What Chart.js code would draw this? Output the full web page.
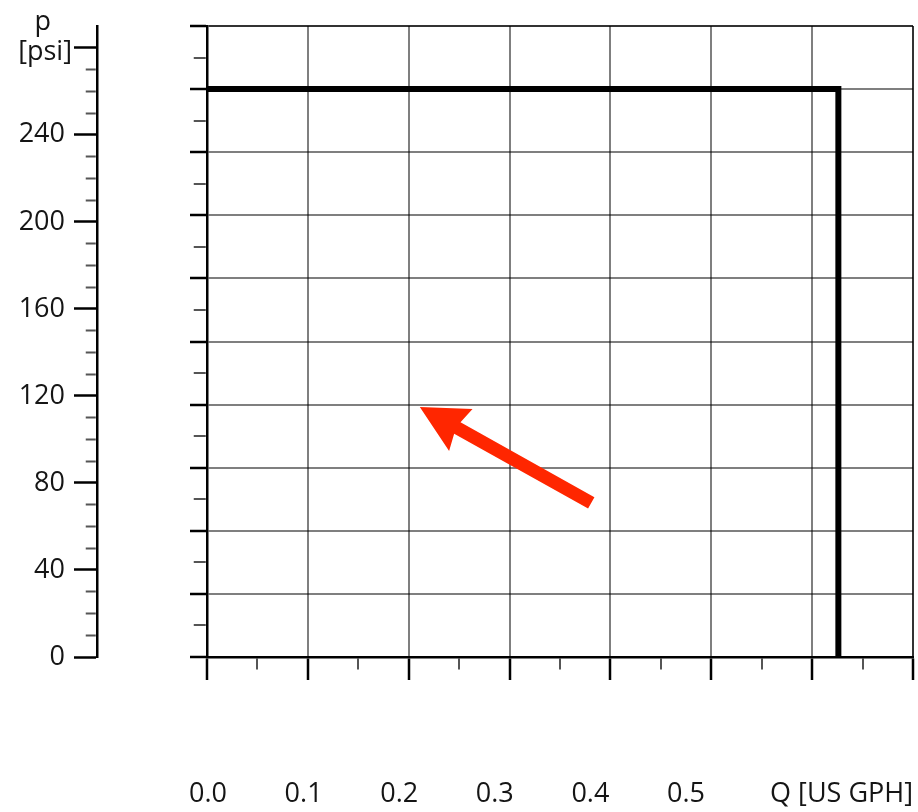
<!DOCTYPE html>
<html>
<head>
<meta charset="utf-8">
<script src="https://cdn.jsdelivr.net/npm/chart.js@4/dist/chart.umd.min.js"></script>
<style>
  html, body { margin: 0; padding: 0; background: #ffffff; }
  #wrap { width: 918px; height: 812px; }
</style>
</head>
<body>
<div id="wrap"><canvas id="c" width="918" height="812"></canvas></div>
<script>
// ---- data ----
const qCurve = [0, 0.626, 0.626];          // Q [US GPH]
const pCurve = [261, 261, 0];              // p [psi]
const xTickValues = [0, 0.1, 0.2, 0.3, 0.4, 0.5];
const xTickLabels = ['0.0', '0.1', '0.2', '0.3', '0.4', '0.5'];
const xAxisName = 'Q [US GPH]';
const pTickValues = [0, 40, 80, 120, 160, 200, 240];
const pUnit = '[psi]';
const pName = 'p';
const arrowQ = [0.381, 0.211];             // tail, tip
const arrowP = [70.8, 114.9];

// ---- style constants ----
const FONT = 'Open Sans';
const GRID = 'rgba(0,0,0,0.5)';
const EDGE = 'rgba(0,0,0,0.8)';
const MINOR = '#555555';
const TEXT = '#151515';

Chart.defaults.font.family = FONT;
Chart.defaults.font.size = 27;
Chart.defaults.color = TEXT;

const arrowPlugin = {
  id: 'arrowPlugin',
  afterDatasetsDraw(chart) {
    const xs = chart.scales.x, ys = chart.scales.y, ctx = chart.ctx;
    const x0 = xs.getPixelForValue(arrowQ[0]), y0 = ys.getPixelForValue(arrowP[0]);
    const x1 = xs.getPixelForValue(arrowQ[1]), y1 = ys.getPixelForValue(arrowP[1]);
    const ang = Math.atan2(y1 - y0, x1 - x0);
    const len = Math.hypot(x1 - x0, y1 - y0);
    const sw = 13, hl = 47, hw = 48;
    ctx.save();
    ctx.translate(x1, y1);
    ctx.rotate(ang);
    ctx.beginPath();
    ctx.moveTo(0, 0);
    ctx.lineTo(-hl, -hw / 2);
    ctx.lineTo(-hl + 4, -sw / 2);
    ctx.lineTo(-len, -sw / 2);
    ctx.lineTo(-len, sw / 2);
    ctx.lineTo(-hl + 4, sw / 2);
    ctx.lineTo(-hl, hw / 2);
    ctx.closePath();
    ctx.fillStyle = '#ff2600';
    ctx.fill();
    ctx.restore();
  }
};

const isMajorQ = v => Math.round(v * 100) % 10 === 0;

new Chart(document.getElementById('c'), {
  type: 'line',
  data: {
    datasets: [{
      data: qCurve.map((q, i) => ({ x: q, y: pCurve[i] })),
      xAxisID: 'x',
      yAxisID: 'y',
      borderColor: '#000000',
      borderWidth: 6,
      borderJoinStyle: 'miter',
      pointRadius: 0,
      tension: 0,
      fill: false
    }]
  },
  options: {
    responsive: false,
    animation: false,
    devicePixelRatio: 1,
    layout: { padding: { top: 26, right: 5, left: 0, bottom: 0 } },
    plugins: { legend: { display: false }, tooltip: { enabled: false } },
    scales: {
      x: {
        type: 'linear', position: 'bottom', weight: 0,
        min: 0, max: 0.7,
        ticks: { display: false, stepSize: 0.05, autoSkip: false },
        grid: {
          drawTicks: true,
          tickLength: 23,
          color: c => {
            const v = c.tick.value;
            if (!isMajorQ(v)) return 'rgba(0,0,0,0)';
            return Math.abs(v - 0.7) < 1e-6 ? EDGE : GRID;
          },
          lineWidth: 2,
          tickColor: c => isMajorQ(c.tick.value) ? '#000000' : MINOR,
          tickWidth: c => isMajorQ(c.tick.value) ? 2.5 : 2,
          tickBorderDash: c => isMajorQ(c.tick.value) ? [] : [11, 100]
        },
        border: { display: true, color: '#000000', width: 2.5 },
        afterFit: s => { s.height = 110; }
      },
      x2: {
        type: 'linear', position: 'bottom', weight: 1,
        min: -0.0209, max: 0.7176,
        grid: {
          display: true, drawOnChartArea: false, drawTicks: true,
          tickLength: 6, tickColor: 'rgba(0,0,0,0)', color: 'rgba(0,0,0,0)'
        },
        border: { display: false },
        ticks: {
          align: 'end', padding: 5, autoSkip: false, maxRotation: 0,
          color: TEXT,
          callback: (v, i) => i < xTickLabels.length ? xTickLabels[i] : xAxisName
        },
        afterBuildTicks: s => {
          s.ticks = xTickValues.map(v => ({ value: v })).concat([{ value: s.max }]);
        },
        afterFit: s => { s.height = 45; }
      },
      y: {
        type: 'linear', position: 'left', weight: 1,
        min: 0, max: 290,
        ticks: {
          stepSize: 10, autoSkip: false, padding: 2, color: TEXT,
          font: c => {
            const v = c.tick ? c.tick.value : null;
            if (v === 290) return { size: 27, lineHeight: 0.3 };
            if (v === 280) return { size: 27, lineHeight: 0.35 };
            return { size: 27 };
          },
          callback: v => {
            if (v === 290) return [pName + '   ', ''];
            if (v === 280) return ['', pUnit];
            if (pTickValues.includes(v)) return v + ' ';
            return '';
          }
        },
        grid: {
          drawOnChartArea: false,
          drawTicks: true,
          tickLength: 23,
          tickColor: c => {
            const v = c.tick.value;
            if (v === 290) return 'rgba(0,0,0,0)';
            return v % 40 === 0 ? '#000000' : MINOR;
          },
          tickWidth: c => c.tick.value % 40 === 0 ? 2.5 : 2,
          tickBorderDash: c => c.tick.value % 40 === 0 ? [] : [0, 11.75, 10, 100]
        },
        border: { display: true, color: '#000000', width: 2.5 },
        afterFit: s => { s.width = 97; }
      },
      yg: {
        type: 'linear', position: 'left', weight: 0,
        min: 0, max: 20,
        ticks: { display: false, stepSize: 1, autoSkip: false },
        grid: {
          drawTicks: true,
          tickLength: 17,
          color: c => {
            const v = c.tick.value;
            if (v % 2 !== 0) return 'rgba(0,0,0,0)';
            return v === 20 ? EDGE : GRID;
          },
          lineWidth: 2,
          tickColor: c => c.tick.value % 2 === 0 ? '#000000' : MINOR,
          tickWidth: c => c.tick.value % 2 === 0 ? 2.5 : 2,
          tickBorderDash: c => c.tick.value % 2 === 0 ? [] : [0, 3.75, 12, 100]
        },
        border: { display: true, color: '#000000', width: 2.5 },
        afterFit: s => { s.width = 110; }
      }
    }
  },
  plugins: [arrowPlugin]
});
</script>
</body>
</html>
